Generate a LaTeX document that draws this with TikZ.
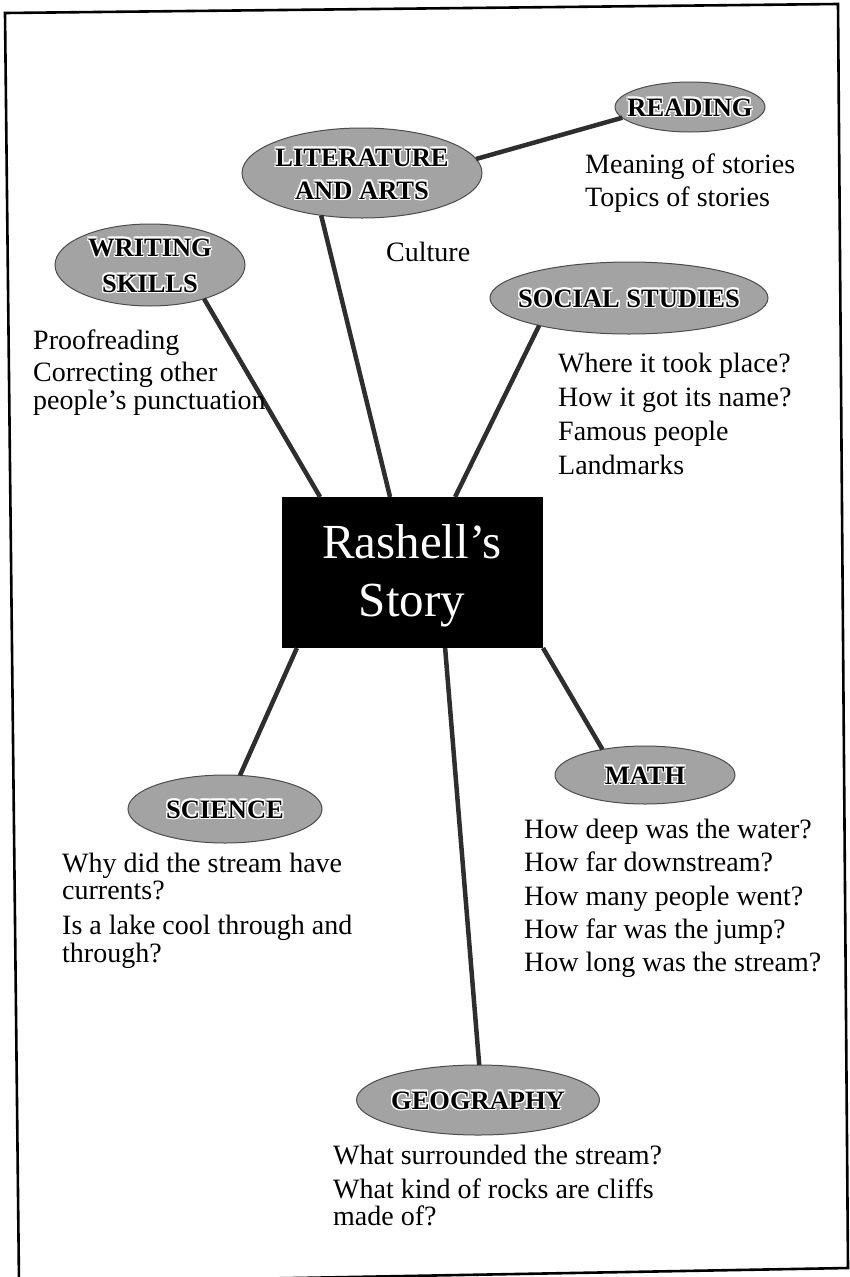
\documentclass[tikz,border=0pt]{standalone}
\usepackage{fontspec}
\setmainfont{Liberation Serif}
\usetikzlibrary{shapes.geometric,calc}
\tikzset{
  bubble/.style={ellipse,draw=black!70,line width=1pt,fill=black!36,inner sep=0pt,outer sep=0pt},
  bubfont/.style={font=\bfseries\fontsize{26.5}{30}\selectfont,inner sep=0pt},
  body/.style={font=\fontsize{28}{33}\selectfont,inner sep=0pt,anchor=base west},
  conn/.style={draw=black!82,line width=4.5pt},
  frame/.style={draw=black,line width=2.6pt,line join=miter},
}
\newcommand\bubtext[2]{%
  \foreach \dx/\dy in {1.2/0,-1.2/0,0/1.2,0/-1.2,1.2/1.2,-1.2/1.2,1.2/-1.2,-1.2/-1.2}
    {\node[bubfont,white,anchor=base] at ([shift={(\dx,\dy)}]#1) {#2};}
  \node[bubfont,anchor=base] at (#1) {#2};}
\begin{document}
\begin{tikzpicture}[x=1pt,y=-1pt]
\useasboundingbox (0,0) rectangle (850,1277);
\fill[white] (0,0) rectangle (850,1277);
% frame
\draw[frame] (5,13) -- (838,4) -- (848,1268) -- (19,1283) -- cycle;

% central box
\node[fill=black,minimum width=261pt,minimum height=151pt,inner sep=0pt,outer sep=0pt] (box) at (412.5,572.5) {};
\node[font=\fontsize{49}{57}\selectfont,text=white,anchor=base,inner sep=0pt] (t1) at (412,558) {Rashell’s};
\node[font=\fontsize{49}{57}\selectfont,text=white,anchor=base,inner sep=0pt] (t2) at (412,616) {Story};

% bubbles
\node[bubble,minimum width=150pt,minimum height=50pt] (read) at (690,107) {};
\node[bubble,minimum width=240pt,minimum height=90pt] (lit) at (362,173) {};
\node[bubble,minimum width=190pt,minimum height=82pt] (write) at (150,265) {};
\node[bubble,minimum width=278pt,minimum height=72pt] (soc) at (629,298) {};
\node[bubble,minimum width=180pt,minimum height=58pt] (math) at (645,775) {};
\node[bubble,minimum width=194pt,minimum height=68pt] (sci) at (225,809) {};
\node[bubble,minimum width=243pt,minimum height=70pt] (geo) at (478,1100) {};

% connectors
\draw[conn] (read.189) -- (lit.7);
\draw[conn] (lit.226) -- ($(box.north west)!0.414!(box.north east)$);
\draw[conn] (write.-32) -- ($(box.north west)!0.146!(box.north east)$);
\draw[conn] (soc.-163) -- ($(box.north west)!0.663!(box.north east)$);
\draw[conn] ($(box.south west)!0.057!(box.south east)$) -- (sci.66);
\draw[conn] ($(box.south west)!0.625!(box.south east)$) -- (geo.88);
\draw[conn] (box.south east) -- (math.149);

% bubble labels
\bubtext{$(read.center)+(0,9)$}{READING}
\bubtext{$(lit.center)+(0,-7)$}{LITERATURE}
\bubtext{$(lit.center)+(0,26)$}{AND ARTS}
\bubtext{$(write.center)+(0,-9)$}{WRITING}
\bubtext{$(write.center)+(0,27)$}{SKILLS}
\bubtext{$(soc.center)+(0,9)$}{SOCIAL STUDIES}
\bubtext{$(math.center)+(0,9)$}{MATH}
\bubtext{$(sci.center)+(0,9)$}{SCIENCE}
\bubtext{$(geo.center)+(0,9)$}{GEOGRAPHY}

% texts
\node[body] (r1) at (585,173) {Meaning of stories};
\node[body] (r2) at (585,206) {Topics of stories};
\node[body] (c1) at (386,261) {Culture};
\node[body] (w1) at (33,349) {Proofreading};
\node[body] (w2) at (33,381) {Correcting other};
\node[body] (w3) at (33,409) {people’s punctuation};
\node[body] (s1) at (558,372) {Where it took place?};
\node[body] (s2) at (558,406) {How it got its name?};
\node[body] (s3) at (558,440) {Famous people};
\node[body] (s4) at (558,474) {Landmarks};
\node[body] (m1) at (524,838) {How deep was the water?};
\node[body] (m2) at (524,871) {How far downstream?};
\node[body] (m3) at (524,905) {How many people went?};
\node[body] (m4) at (524,938) {How far was the jump?};
\node[body] (m5) at (524,971) {How long was the stream?};
\node[body] (k1) at (62,872) {Why did the stream have};
\node[body] (k2) at (62,899) {currents?};
\node[body] (k3) at (62,934) {Is a lake cool through and};
\node[body] (k4) at (62,962) {through?};
\node[body] (g1) at (333,1164) {What surrounded the stream?};
\node[body] (g2) at (333,1198) {What kind of rocks are cliffs};
\node[body] (g3) at (333,1225) {made of?};
\end{tikzpicture}
\end{document}
